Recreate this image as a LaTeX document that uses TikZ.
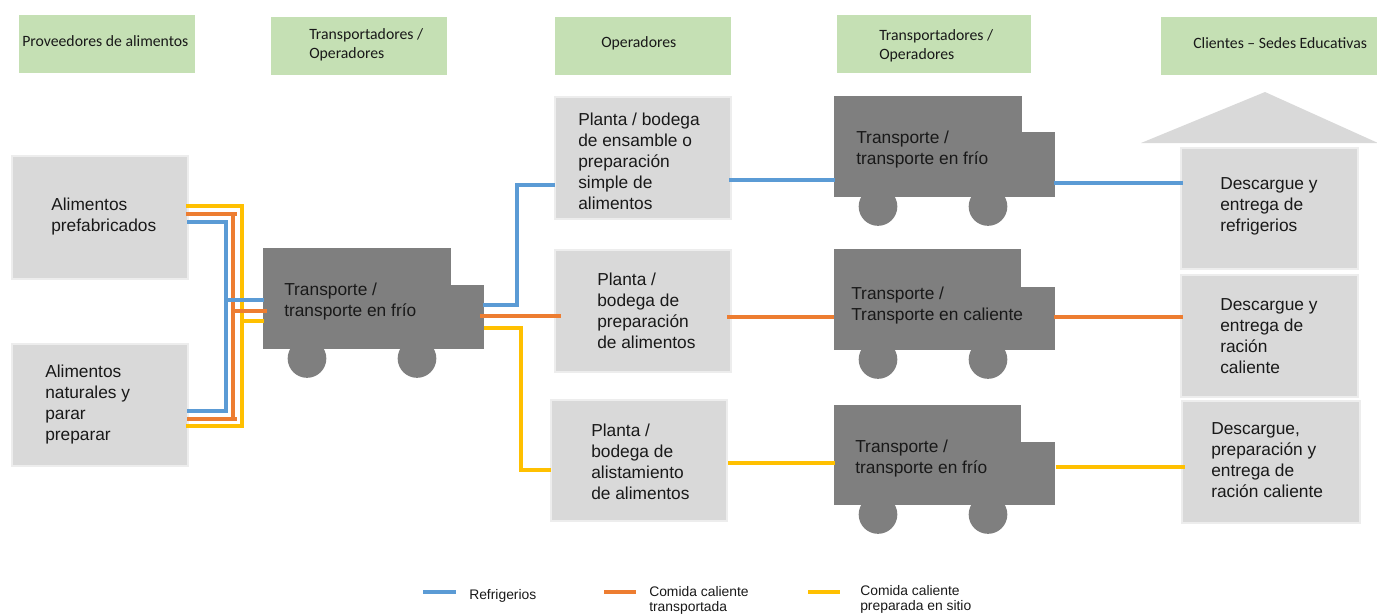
\documentclass[tikz,border=0pt]{standalone}
\usepackage{fontspec}
\newfontfamily\hdrfont{Carlito}
\newfontfamily\bodyfont{Liberation Sans}
\definecolor{boxgray}{HTML}{D9D9D9}
\definecolor{boxedge}{HTML}{EDEDED}
\definecolor{truckgray}{HTML}{7F7F7F}
\definecolor{hdrgreen}{HTML}{C5E0B4}
\definecolor{lblue}{HTML}{5B9BD5}
\definecolor{lorange}{HTML}{ED7D31}
\definecolor{lyellow}{HTML}{FFC000}
\tikzset{
  boxbase/.style={inner sep=0pt,outer sep=0pt},
  graybox/.style={boxbase,fill=boxgray,draw=boxedge,line width=1.5pt},
  hdrbox/.style={boxbase,fill=hdrgreen},
  truckbox/.style={boxbase,fill=truckgray},
  wheel/.style={circle,boxbase,fill=truckgray,minimum size=29pt},
  bodytxt/.style={anchor=north west,inner sep=0pt,align=left,yshift=-0.5pt,text=black!90,font=\bodyfont\fontsize{13}{15.75}\selectfont},
  hdrtxt/.style={anchor=north west,inner sep=0pt,align=left,text=black!90,font=\hdrfont\fontsize{11.8}{14.25}\selectfont},
  legtxt/.style={anchor=north west,inner sep=0pt,align=left,text=black!90,font=\bodyfont\fontsize{10.4}{11.25}\selectfont},
  flow/.style={line width=3pt,line join=miter},
  blueflow/.style={flow,draw=lblue},
  orangeflow/.style={flow,draw=lorange},
  yellowflow/.style={flow,draw=lyellow}
}
\newcommand{\bx}[6]{\node[#6,minimum width={(#4-#2)*0.75pt},minimum height={(#5-#3)*0.75pt}] (#1) at ({(#2+#4)/2},{(#3+#5)/2}) {};}
% name, left, top, step x, step y, right, bottom, wheel1 x, wheel2 x
\newcommand{\truck}[9]{%
  \node[wheel] (#1w1) at (#8,{#7+9.5}) {};
  \node[wheel] (#1w2) at (#9,{#7+9.5}) {};
  \bx{#1}{#2}{#3}{#4}{#7}{truckbox}
  \bx{#1c}{#4-0.5}{#5}{#6}{#7}{truckbox}
}
\begin{document}
\begin{tikzpicture}[x=0.75pt,y=-0.75pt]
\useasboundingbox (0,0) rectangle (1377,615);
% headers
\bx{h1}{19}{15}{195}{73}{hdrbox}
\bx{h2}{271}{17}{447}{75}{hdrbox}
\bx{h3}{555}{17}{731}{75}{hdrbox}
\bx{h4}{837}{15}{1031}{73}{hdrbox}
\bx{h5}{1161}{17}{1377}{75}{hdrbox}
\node[hdrtxt] (h1t) at (22,35) {Proveedores de alimentos};
\node[hdrtxt] (h2t) at (309,28) {Transportadores /\\Operadores};
\node[hdrtxt] (h3t) at (601,36) {Operadores};
\node[hdrtxt] (h4t) at (879,29) {Transportadores /\\Operadores};
\node[hdrtxt] (h5t) at (1193,37) {Clientes – Sedes Educativas};
% boxes
\bx{a1}{12}{156}{188}{279}{graybox}
\bx{a2}{12}{344}{188}{466}{graybox}
\bx{p1}{555}{97}{731}{219}{graybox}
\bx{p2}{555}{250}{731}{372}{graybox}
\bx{p3}{551}{400}{727}{521}{graybox}
\bx{c1}{1181}{148}{1358}{269}{graybox}
\bx{c2}{1181}{275}{1358}{397}{graybox}
\bx{c3}{1182}{401}{1360}{523}{graybox}
\fill[boxgray] (1141,143) -- (1265,92) -- (1378,143) -- cycle;
% trucks
\truck{t1}{263}{248}{451}{285}{484}{349}{307}{417}
\truck{t2}{834}{96}{1022}{132}{1055}{197}{878}{988}
\truck{t3}{834}{249}{1021}{287}{1055}{350}{878}{988}
\truck{t4}{834}{405}{1021}{442}{1055}{505}{878}{988}
% left bundle
\draw[yellowflow] ([xshift=-1.5pt]a1.east |- 0,206) -- (242,206) -- (242,426) -- ([xshift=-1.5pt]a2.east |- 0,426);
\draw[yellowflow] (242,321) -- ([xshift=0.75pt]t1.west |- 0,321);
\draw[orangeflow] ([xshift=-1.5pt]a1.east |- 0,214) -- (237,214);
\draw[orangeflow] (233,214) -- (233,419);
\draw[orangeflow] ([xshift=-0.75pt]a2.east |- 0,419) -- (237,419);
\draw[orangeflow] (233,311) -- ([xshift=3pt]t1.west |- 0,311);
\draw[blueflow] ([xshift=-0.75pt]a1.east |- 0,222) -- (226,222) -- (226,411) -- ([xshift=-0.75pt]a2.east |- 0,411);
\draw[blueflow] (226,300) -- ([xshift=0.75pt]t1.west |- 0,300);
% truck 1 to plants
\draw[yellowflow] (t1c.east |- 0,328) -- (521,328) -- (521,470) -- (p3.west |- 0,470);
\draw[orangeflow] ([xshift=-3pt]t1c.east |- 0,316) -- ([xshift=4.5pt]p2.west |- 0,316);
\draw[blueflow] ([xshift=-0.75pt]t1c.east |- 0,305) -- (517,305) -- (517,185) -- (p1.west |- 0,185);
% plants to trucks
\draw[blueflow] ([xshift=-1.5pt]p1.east |- 0,180) -- ([xshift=0.75pt]t2.west |- 0,180);
\draw[orangeflow] ([xshift=-3pt]p2.east |- 0,317) -- (t3.west |- 0,317);
\draw[yellowflow] ([xshift=0.75pt]p3.east |- 0,463) -- ([xshift=0.75pt]t4.west |- 0,463);
% trucks to clients
\draw[blueflow] ([xshift=-0.75pt]t2c.east |- 0,183) -- ([xshift=1.5pt]c1.west |- 0,183);
\draw[orangeflow] ([xshift=-0.75pt]t3c.east |- 0,317) -- ([xshift=1.5pt]c2.west |- 0,317);
\draw[yellowflow] ([xshift=0.75pt]t4c.east |- 0,467) -- ([xshift=2.25pt]c3.west |- 0,467);
% texts
\node[bodytxt] (a1t) at (51,197) {Alimentos\\prefabricados};
\node[bodytxt] (a2t) at (45,364) {Alimentos\\naturales y\\parar\\preparar};
\node[bodytxt] (t1t) at (284,282) {Transporte /\\transporte en frío};
\node[bodytxt] (p1t) at (578,112) {Planta / bodega\\de ensamble o\\preparación\\simple de\\alimentos};
\node[bodytxt] (p2t) at (597,272) {Planta /\\bodega de\\preparación\\de alimentos};
\node[bodytxt] (p3t) at (591,423) {Planta /\\bodega de\\alistamiento\\de alimentos};
\node[bodytxt] (t2t) at (856,130) {Transporte /\\transporte en frío};
\node[bodytxt] (t3t) at (851,286) {Transporte /\\Transporte en caliente};
\node[bodytxt] (t4t) at (855,439) {Transporte /\\transporte en frío};
\node[bodytxt] (c1t) at (1220,177) {Descargue y\\entrega de\\refrigerios};
\node[bodytxt] (c2t) at (1220,298) {Descargue y\\entrega de\\ración\\caliente};
\node[bodytxt] (c3t) at (1211,422) {Descargue,\\preparación y\\entrega de\\ración caliente};
% legend
\coordinate (l1a) at (423,592); \coordinate (l1b) at (456,592);
\coordinate (l2a) at (604,592); \coordinate (l2b) at (636,592);
\coordinate (l3a) at (808,592); \coordinate (l3b) at (840,592);
\draw[blueflow] (l1a) -- (l1b);
\draw[orangeflow] (l2a) -- (l2b);
\draw[yellowflow] (l3a) -- (l3b);
\node[legtxt] (l1t) at (469,589) {Refrigerios};
\node[legtxt] (l2t) at (649,586) {Comida caliente\\transportada};
\node[legtxt] (l3t) at (860,585) {Comida caliente\\preparada en sitio};
\end{tikzpicture}
\end{document}
